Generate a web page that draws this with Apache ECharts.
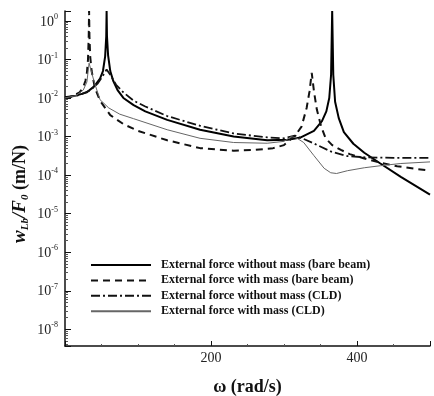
<!DOCTYPE html>
<html>
<head>
<meta charset="utf-8">
<script src="https://cdn.jsdelivr.net/npm/echarts@6/dist/echarts.min.js"></script>
<style>html,body{margin:0;padding:0;background:#fff}#c{width:434px;height:396px}</style>
</head>
<body>
<div id="c"></div>
<script>
// Series names
var seriesNames = [
  'External force without mass (bare beam)',
  'External force with mass (bare beam)',
  'External force without mass (CLD)',
  'External force with mass (CLD)'
];
// Solid: bare beam, without mass
var wBareNoMass = [0,15,30,40,48,52,55,56.5,57,57.5,59,62,66,72,80,94,110,140,185,231,277,305,323,341,352,358,362,364.5,366,367.5,370,375,382,395,410,432,460,500];
var yBareNoMass = [1.05e-2,1.15e-2,1.4e-2,2.0e-2,3.2e-2,5e-2,0.12,0.4,1.8,0.4,0.13,0.05,0.028,0.016,1.0e-2,6.5e-3,4.5e-3,2.7e-3,1.5e-3,1.0e-3,8.0e-4,8.3e-4,9.5e-4,1.4e-3,2.5e-3,4.5e-3,1.0e-2,0.04,1.8,0.04,8e-3,3e-3,1.3e-3,6.5e-4,3.8e-4,2.0e-4,9e-5,3.1e-5];
// Dashed: bare beam, with mass
var wBareMass = [0,10,20,25,28,30,31.5,32.5,33,33.5,34.5,36.5,41,48,62,80,100,140,185,231,260,285,300,316,324,331,335,338,341,345,351,357,366,378,390,410,432,455,480,500];
var yBareMass = [1.0e-2,1.1e-2,1.4e-2,1.9e-2,2.8e-2,4.5e-2,0.1,0.4,1.8,0.4,0.12,0.05,1.8e-2,8.5e-3,3.6e-3,2.1e-3,1.4e-3,8e-4,5e-4,4.3e-4,4.5e-4,5.0e-4,6e-4,1.1e-3,1.8e-3,5.5e-3,0.015,0.045,0.015,5e-3,1.8e-3,9e-4,6e-4,4.5e-4,3.5e-4,2.7e-4,2.1e-4,1.7e-4,1.45e-4,1.3e-4];
// Dash-dot: CLD, without mass
var wCldNoMass = [0,20,35,45,52,57,62,70,80,94,110,140,185,231,277,300,315,325,341,364,387,410,450,500];
var yCldNoMass = [1.0e-2,1.2e-2,1.6e-2,2.4e-2,3.8e-2,5.5e-2,4e-2,2.2e-2,1.4e-2,8.5e-3,6e-3,3.4e-3,1.9e-3,1.2e-3,9.5e-4,9e-4,1.05e-3,9e-4,6.6e-4,4.1e-4,3.1e-4,2.9e-4,2.8e-4,2.8e-4];
// Thin: CLD, with mass
var wCldMass = [0,15,25,30,33,36,40,48,60,75,94,140,185,231,277,300,310,318,327,341,355,364,372,387,410,432,460,500];
var yCldMass = [1.0e-2,1.15e-2,1.6e-2,2.6e-2,8e-2,5e-2,2.6e-2,9e-3,5.5e-3,3.8e-3,2.9e-3,1.5e-3,9e-4,7e-4,6.7e-4,7.5e-4,1.0e-3,9e-4,7e-4,3.2e-4,1.5e-4,1.15e-4,1.1e-4,1.3e-4,1.55e-4,1.75e-4,2.0e-4,2.2e-4];
// Axis ranges / tick labels
var xRange = [0, 500];
var xTickStep = 200;
var xTickLabels = [200, 400];
var yRange = [3.7e-9, 1.8];

function pairs(xs, ys){ return xs.map(function(x,i){ return [x, ys[i]]; }); }

var serif = 'Liberation Serif';
var chart = echarts.init(document.getElementById('c'), null, {renderer:'canvas'});
chart.setOption({
  animation: false,
  backgroundColor: '#fff',
  grid: {left: 65, right: 4, top: 11, bottom: 50, containLabel: false, outerBoundsMode: 'none'},
  legend: {
    orient: 'vertical', left: 85, top: 254,
    itemWidth: 60, itemHeight: 10, itemGap: 3.4,
    itemStyle: {opacity: 0},
    textStyle: {fontFamily: serif, fontWeight: 'bold', fontSize: 12, color: '#111', padding: [0,0,0,5]},
    data: seriesNames
  },
  xAxis: {
    type: 'value', min: xRange[0], max: xRange[1], interval: xTickStep,
    axisLine: {lineStyle: {color: '#111', width: 1.5}},
    axisTick: {inside: true, length: 5, lineStyle: {color: '#111'}},
    minorTick: {show: true, splitNumber: 4, length: 2, lineStyle: {color: '#555'}},
    splitLine: {show: false},
    axisLabel: {fontFamily: serif, fontSize: 14, color: '#222', margin: 5,
      formatter: function(v){ return xTickLabels.indexOf(v) >= 0 ? String(v) : ''; }},
    name: 'ω (rad/s)', nameLocation: 'middle', nameGap: 32,
    nameTextStyle: {fontFamily: serif, fontWeight: 'bold', fontSize: 18, color: '#111'}
  },
  yAxis: {
    type: 'log', logBase: 10, min: yRange[0], max: yRange[1],
    axisLine: {show: true, lineStyle: {color: '#111', width: 1.5}},
    axisTick: {show: true, inside: true, length: 6, lineStyle: {color: '#111'}},
    minorTick: {show: true, splitNumber: 9, length: 3, lineStyle: {color: '#555'}},
    splitLine: {show: false},
    axisLabel: {
      margin: 7,
      formatter: function(v){
        var e = Math.log10(v); var r = Math.round(e);
        if (Math.abs(e - r) > 1e-6) return '';
        return '{b|10}{s|' + r + '}';
      },
      rich: {
        b: {fontFamily: serif, fontSize: 14, color: '#222', lineHeight: 16, verticalAlign: 'bottom'},
        s: {fontFamily: serif, fontSize: 8, color: '#222', verticalAlign: 'top', lineHeight: 16, padding: [0,0,6,0]}
      }
    }
  },
  graphic: [{
    type: 'text', x: 20, y: 194, rotation: Math.PI/2, z: 10,
    style: {
      text: '{i|w}{sub|Lb}{i|/F}{sub|0}{n| (m/N)}',
      textAlign: 'center', textVerticalAlign: 'middle',
      rich: {
        i: {fontFamily: serif, fontStyle: 'italic', fontWeight: 'bold', fontSize: 19, fill: '#111', lineHeight: 22},
        sub: {fontFamily: serif, fontStyle: 'italic', fontWeight: 'bold', fontSize: 11, fill: '#111', lineHeight: 22, verticalAlign: 'bottom', padding:[8,0,0,0]},
        n: {fontFamily: serif, fontWeight: 'bold', fontSize: 18, fill: '#111', lineHeight: 22}
      }
    }
  }],
  series: [
    {name: seriesNames[0], type: 'line', symbol: 'none', data: pairs(wBareNoMass, yBareNoMass),
     lineStyle: {color: '#000', width: 2, type: 'solid'}, itemStyle: {color: '#000'}},
    {name: seriesNames[1], type: 'line', symbol: 'none', data: pairs(wBareMass, yBareMass),
     lineStyle: {color: '#111', width: 2, type: [7, 5]}, itemStyle: {color: '#111'}},
    {name: seriesNames[2], type: 'line', symbol: 'none', data: pairs(wCldNoMass, yCldNoMass),
     lineStyle: {color: '#111', width: 1.8, type: [9, 3, 2, 3]}, itemStyle: {color: '#111'}},
    {name: seriesNames[3], type: 'line', symbol: 'none', data: pairs(wCldMass, yCldMass),
     lineStyle: {color: '#666', width: 1, type: 'solid'}, itemStyle: {color: '#666'}}
  ]
});
</script>
</body>
</html>
